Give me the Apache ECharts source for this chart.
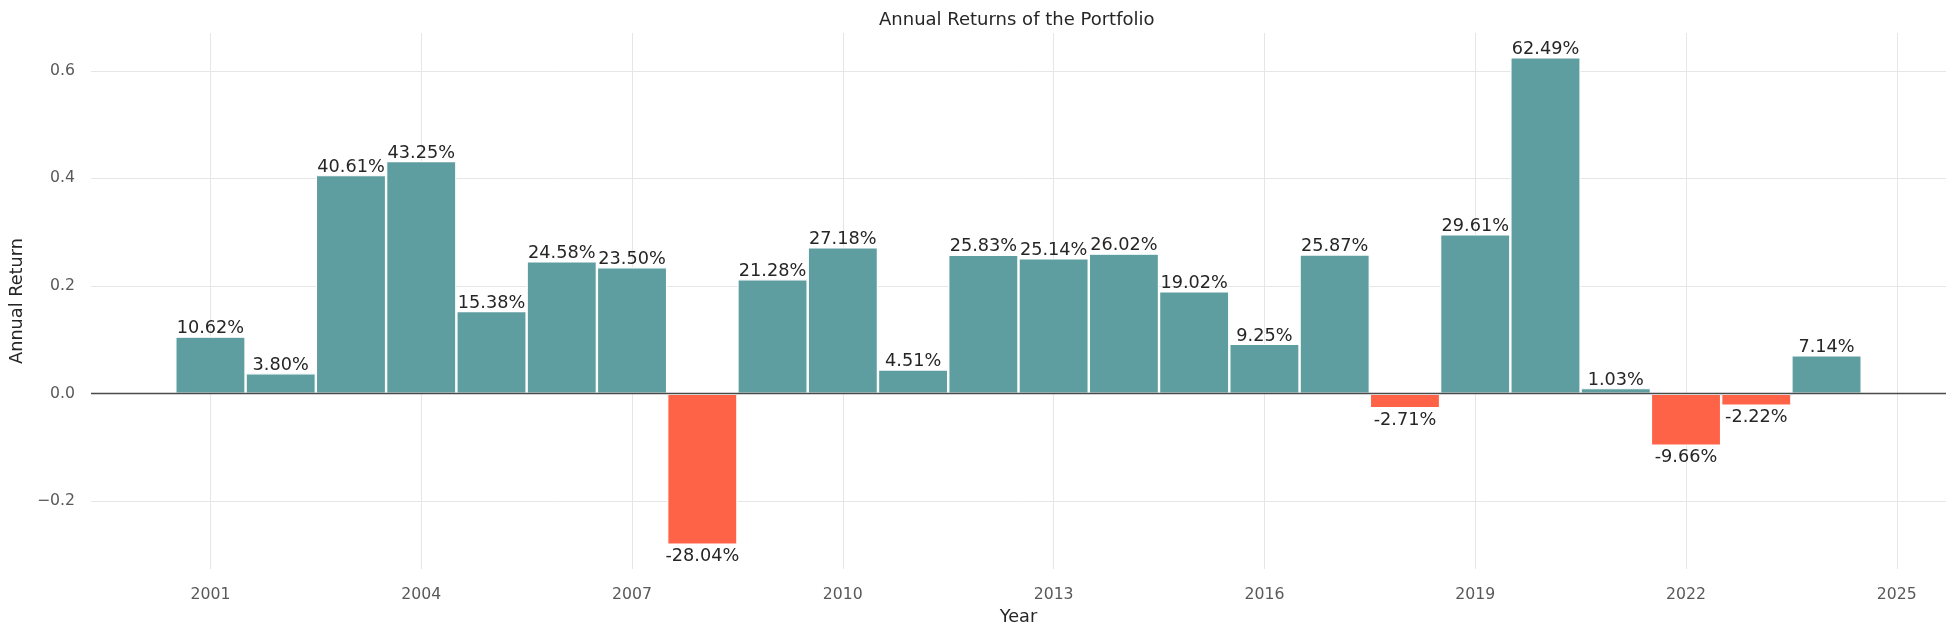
<!DOCTYPE html>
<html>
<head>
<meta charset="utf-8">
<script src="https://cdn.jsdelivr.net/npm/echarts@6/dist/echarts.min.js"></script>
<style>
html,body{margin:0;padding:0;background:#fff;}
#chart{width:1957px;height:636px;}
</style>
</head>
<body>
<div id="chart"></div>
<script>
const years = [2001,2002,2003,2004,2005,2006,2007,2008,2009,2010,2011,2012,2013,2014,2015,2016,2017,2018,2019,2020,2021,2022,2023,2024];
const returns = [0.1062,0.0380,0.4061,0.4325,0.1538,0.2458,0.2350,-0.2804,0.2128,0.2718,0.0451,0.2583,0.2514,0.2602,0.1902,0.0925,0.2587,-0.0271,0.2961,0.6249,0.0103,-0.0966,-0.0222,0.0714];
const xTicks = [2001,2004,2007,2010,2013,2016,2019,2022,2025];
const yTicks = [-0.2,0,0.2,0.4,0.6];

const POS = '#5F9EA0', NEG = '#FF6347';
const FONT = 'DejaVu Sans';

const barData = years.map((y, i) => ({
  value: [y, returns[i]],
  itemStyle: { color: returns[i] >= 0 ? POS : NEG },
  label: { position: returns[i] >= 0 ? 'top' : 'bottom' }
}));

const chart = echarts.init(document.getElementById('chart'), null, { renderer: 'canvas' });
chart.setOption({
  animation: false,
  backgroundColor: '#ffffff',
  title: {
    text: 'Annual Returns of the Portfolio',
    left: 879,
    top: 11,
    padding: 0,
    textStyle: { fontFamily: FONT, fontSize: 18, fontWeight: 'normal', color: '#262626' }
  },
  grid: { left: 88, right: 11, top: 33, bottom: 67 },
  xAxis: {
    type: 'value',
    min: 1999.3,
    max: 2025.7,
    name: 'Year',
    nameLocation: 'middle',
    nameGap: 39,
    nameTextStyle: { fontFamily: FONT, fontSize: 17.7, color: '#262626' },
    axisLine: { show: false },
    axisTick: { show: false, customValues: xTicks },
    axisLabel: {
      customValues: xTicks,
      margin: 18,
      fontFamily: FONT, fontSize: 15.7, color: '#595959',
      formatter: v => String(Math.round(v))
    },
    splitLine: { show: true, lineStyle: { color: '#e6e6e6', width: 1 } }
  },
  yAxis: {
    type: 'value',
    min: -0.3257,
    max: 0.6702,
    name: 'Annual Return',
    nameLocation: 'middle',
    nameGap: 59,
    nameTextStyle: { fontFamily: FONT, fontSize: 17.7, color: '#262626' },
    axisLine: { show: false },
    axisTick: { show: false, customValues: yTicks },
    axisLabel: {
      customValues: yTicks,
      margin: 16,
      fontFamily: FONT, fontSize: 15.7, color: '#595959',
      formatter: v => (v < -1e-9 ? '\u2212' + Math.abs(v).toFixed(1) : Math.abs(v).toFixed(1))
    },
    splitLine: { show: true, lineStyle: { color: '#e6e6e6', width: 1 } }
  },
  series: [{
    type: 'bar',
    data: barData,
    barWidth: '100%',
    itemStyle: { borderColor: '#ffffff', borderWidth: 1.2 },
    label: {
      show: true,
      distance: 1,
      offset: [0, 2],
      fontFamily: FONT,
      fontSize: 17.7,
      color: '#262626',
      formatter: p => (p.value[1] * 100).toFixed(2) + '%'
    },
    markLine: {
      silent: true,
      symbol: ['none', 'none'],
      label: { show: false },
      lineStyle: { color: '#4a4a4a', width: 1.3, type: 'solid' },
      data: [{ yAxis: 0 }]
    }
  }]
});
</script>
</body>
</html>
